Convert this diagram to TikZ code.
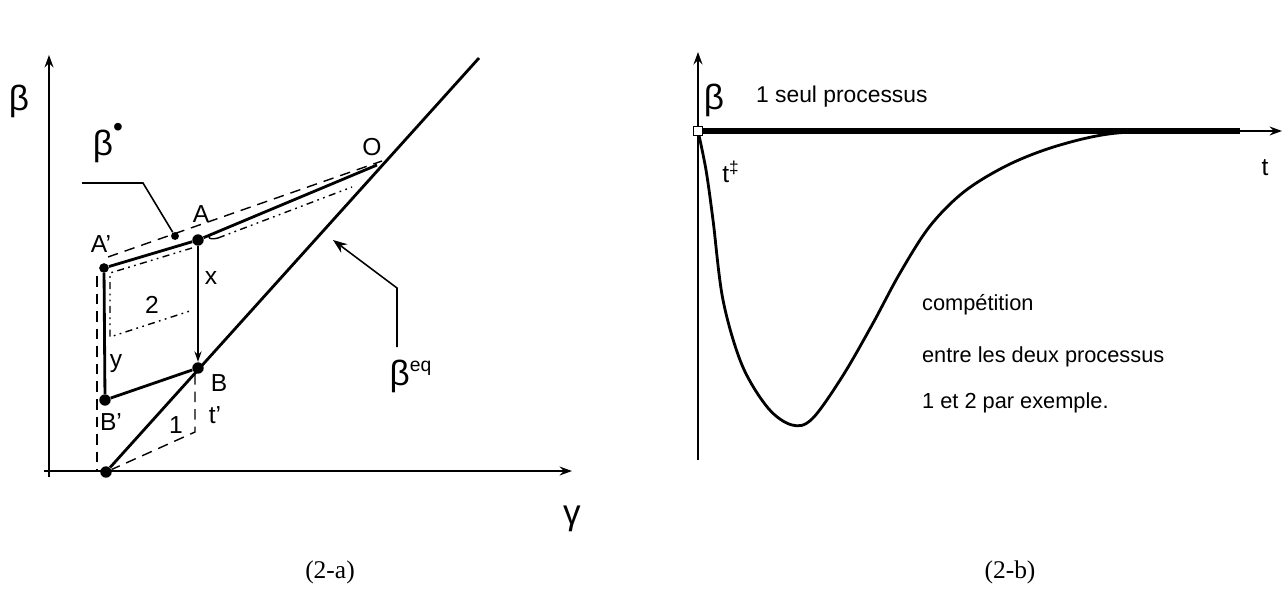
\documentclass[tikz,border=0pt]{standalone}
\usepackage{fontspec}
\setmainfont{Liberation Sans}
\newfontfamily\capfont{Liberation Serif}
\usetikzlibrary{positioning, arrows.meta}

\begin{document}
\begin{tikzpicture}[x=0.02cm, y=-0.02cm, every node/.style={inner sep=1pt},
  lbl/.style={font=\fontsize{14}{16}\selectfont},
  axlbl/.style={font=\fontsize{20}{22}\selectfont},
  txt/.style={font=\fontsize{12.4}{15}\selectfont, anchor=base west},
  figcap/.style={font=\capfont\fontsize{14.5}{17}\selectfont},
  axis/.style={-{Stealth[length=7pt, width=5pt]}, line width=1.2pt},
  thick line/.style={line width=1.6pt},
  dashline/.style={dash pattern=on 6pt off 4pt, line width=0.8pt},
  dashdot/.style={dash pattern=on 4pt off 2.5pt on 1pt off 2.5pt on 1pt off 2.5pt, line width=0.8pt},
  pt/.style={circle, fill, inner sep=0pt, minimum size=6.5pt}]
\useasboundingbox (0,0) rectangle (1283,612);

% (2-a)
\coordinate (ya) at (49,477);
\coordinate (yt) at (49,55);
\coordinate (xa) at (44,471);
\coordinate (xt) at (572,471);
\draw[axis] (ya) -- (yt);
\draw[axis] (xa) -- (xt);

\node[pt] (P0) at (106,472) {};
\node[pt] (B) at (198,368) {};
\node[pt] (Bp) at (105,400) {};
\node[pt] (A) at (198,240) {};
\node[pt, minimum size=5.5pt] (Ap) at (104,268) {};
\node[pt, minimum size=4.5pt] (star) at (175,236) {};
\coordinate (O) at (377,165);
\coordinate (eqtop) at (479,58);

\draw[thick line] (P0) -- (eqtop);
\draw[thick line] (Ap) -- (A) -- (O);
\draw[thick line] (Ap) -- (Bp) -- (B);
\draw[line width=1.1pt, -{Stealth[length=6pt, width=4pt]}] (A) -- (B);

% construction lines
\coordinate (d1) at (108,257);
\coordinate (d2) at (382,161);
\draw[dashline] (d1) -- (d2);
\coordinate (d3) at (97,276);
\coordinate (d4) at (97,470);
\draw[dashline] (d3) -- (d4);
\coordinate (d5) at (195,374);
\coordinate (d6) at (195,432);
\draw[dashline] (d5) -- (d6) -- (P0);

\coordinate (r1) at (192,248);
\coordinate (r2) at (110,273);
\coordinate (r3) at (110,337);
\coordinate (r4) at (193,310);
\draw[dashdot] (r1) -- (r2) -- (r3) -- (r4);
\coordinate (c1) at (216,233);
\coordinate (c2) at (352,187);
\draw[line width=0.8pt] (c1) .. controls (206,235) and (207,241) .. (218,238);
\draw[dashdot] (218,238) -- (c2);

% leaders
\coordinate (l1) at (82,183);
\coordinate (l2) at (143,183);
\draw[line width=0.9pt] (l1) -- (l2) -- (star);
\coordinate (e1) at (397,347);
\coordinate (e2) at (397,288);
\coordinate (e3) at (333,240);
\draw[line width=0.9pt, -{Stealth[length=8pt, width=6pt]}] (e1) -- (e2) -- (e3);

\node[axlbl] (betaA) at (19,101) {β};
\node[axlbl] (gammaA) at (572,519) {γ};
\node[axlbl] (betastar) at (108,143) {β\raisebox{0.55em}{\fontsize{16}{16}\selectfont •}};
\node[axlbl] (betaeq) at (411,376) {β\textsuperscript{\fontsize{11}{12}\selectfont eq}};
\node[lbl] (lO) at (372,147) {O};
\node[lbl] (lA) at (201,214) {A};
\node[lbl] (lAp) at (101,244) {A'};
\node[lbl] (lx) at (211,278) {x};
\node[lbl] (l2n) at (152,305) {2};
\node[lbl] (ly) at (116,364) {y};
\node[lbl] (lBp) at (111,422) {B'};
\node[lbl] (lB) at (219,383) {B};
\node[lbl] (ltp) at (215,415) {t'};
\node[lbl] (l1n) at (176,425) {1};
\node[figcap] (capA) at (330,572) {(2-a)};

% (2-b)
\coordinate (yb) at (698,460);
\coordinate (yb2) at (698,52);
\coordinate (xm) at (1240,131);
\coordinate (xe) at (1282,131);
\draw[axis] (yb) -- (yb2);
\draw[line width=3pt] (698,131) -- (xm);
\draw[axis] (698,131) -- (xe);
\draw[thick line] plot[smooth, tension=0.55] coordinates {(698,131) (706,170) (713,220) (723,300) (742,365) (768,408) (792,425) (812,419) (842,377) (872,325) (900,273) (930,226) (965,191) (1010,164) (1060,145) (1117,133) (1200,131)};
\node[draw, fill=white, line width=0.8pt, inner sep=0pt, minimum size=5pt] (o2) at (698,131) {};

\node[axlbl] (betaB) at (714,100) {β};
\node[txt, font=\fontsize{13}{15}\selectfont] (seul) at (754,102) {1 seul processus};
\node[lbl] (tdag) at (731,172) {t\textsuperscript{‡}};
\node[lbl] (tB) at (1265,168) {t};
\node[txt] (comp) at (920,310) {compétition};
\node[txt] (entre) at (920,362) {entre les deux processus};
\node[txt] (par) at (920,408) {1 et 2 par exemple.};
\node[figcap] (capB) at (1010,572) {(2-b)};
\end{tikzpicture}
\end{document}
